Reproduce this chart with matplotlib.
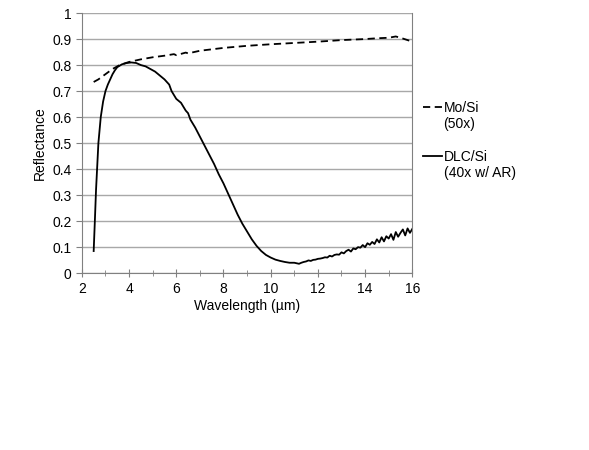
import matplotlib.pyplot as plt
from matplotlib.ticker import MultipleLocator

plt.rcParams['font.family'] = ['Liberation Sans', 'DejaVu Sans']

# Mo/Si (50x), dashed curve
moWave = [2.5, 2.7, 3.0, 3.3, 3.6, 4.0, 4.5, 5.0, 5.5, 5.9, 6.0, 6.4, 6.5, 7.0,
          8.0, 9.0, 10.0, 11.0, 12.0, 13.0, 14.0, 14.5, 15.0, 15.3, 15.6, 16.0]
moRefl = [0.735, 0.745, 0.765, 0.785, 0.80, 0.812, 0.822, 0.83, 0.836, 0.842, 0.838,
          0.848, 0.845, 0.855, 0.866, 0.874, 0.88, 0.885, 0.89, 0.896, 0.90,
          0.903, 0.905, 0.91, 0.902, 0.89]

# DLC/Si (40x w/ AR), solid curve
dlcWave = [2.5, 2.55, 2.6, 2.7, 2.8, 2.9, 3.0, 3.1, 3.2, 3.3, 3.4, 3.5, 3.7, 3.9,
           4.1, 4.3, 4.5, 4.7, 4.9, 5.1, 5.3, 5.5, 5.6, 5.7, 5.8, 5.9, 6.0, 6.2,
           6.4, 6.5, 6.6, 6.8, 7.0, 7.2, 7.4, 7.6, 7.8, 8.0, 8.2, 8.4, 8.6, 8.8,
           9.0, 9.2, 9.4, 9.6, 9.8, 10.0, 10.2, 10.4, 10.6, 10.8, 11.0, 11.1, 11.2,
           11.3, 11.4, 11.5, 11.6, 11.7, 11.8, 11.9, 12.0, 12.1, 12.2, 12.3, 12.4,
           12.5, 12.6, 12.7, 12.8, 12.9, 13.0, 13.1, 13.2, 13.3, 13.4, 13.5, 13.6,
           13.7, 13.8, 13.9, 14.0, 14.1, 14.2, 14.3, 14.4, 14.5, 14.6, 14.7, 14.8,
           14.9, 15.0, 15.1, 15.2, 15.3, 15.4, 15.5, 15.6, 15.7, 15.8, 15.9, 16.0]
dlcRefl = [0.085, 0.2, 0.32, 0.5, 0.6, 0.66, 0.70, 0.725, 0.745, 0.765, 0.78, 0.792,
           0.803, 0.808, 0.81, 0.808, 0.80, 0.795, 0.785, 0.775, 0.76, 0.745, 0.735,
           0.725, 0.70, 0.685, 0.67, 0.655, 0.625, 0.615, 0.59, 0.56, 0.525, 0.49,
           0.455, 0.42, 0.38, 0.345, 0.305, 0.265, 0.225, 0.19, 0.16, 0.13, 0.105,
           0.085, 0.07, 0.06, 0.052, 0.047, 0.043, 0.04, 0.04, 0.038, 0.036, 0.04,
           0.043, 0.045, 0.049, 0.047, 0.051, 0.052, 0.055, 0.056, 0.058, 0.061, 0.06,
           0.067, 0.064, 0.07, 0.072, 0.071, 0.08, 0.076, 0.085, 0.09, 0.083, 0.095,
           0.092, 0.1, 0.098, 0.108, 0.1, 0.115, 0.109, 0.12, 0.112, 0.13, 0.118,
           0.138, 0.122, 0.142, 0.133, 0.15, 0.128, 0.158, 0.14, 0.155, 0.168,
           0.145, 0.172, 0.155, 0.17]

fig = plt.figure(figsize=(5.89, 4.5), dpi=100)
ax = fig.add_axes([0.139, 0.393, 0.561, 0.578])

ax.plot(moWave, moRefl, color='black', lw=1.3, ls=(0, (4, 2.5)), label='Mo/Si\n(50x)')
ax.plot(dlcWave, dlcRefl, color='black', lw=1.3, label='DLC/Si\n(40x w/ AR)')

ax.set_xlim(2, 16)
ax.set_ylim(0, 1)
ax.xaxis.set_major_locator(MultipleLocator(2))
ax.xaxis.set_minor_locator(MultipleLocator(1))
ax.set_yticks([i / 10 for i in range(11)])
ax.set_yticklabels(['0'] + ['%.1f' % (i / 10) for i in range(1, 10)] + ['1'])
ax.grid(axis='y', color='#a8a8a8', lw=1)
ax.set_axisbelow(True)
ax.spines['top'].set_visible(False)
for s in ['left', 'bottom', 'right']:
    ax.spines[s].set_color('#808080')
ax.tick_params(axis='x', which='both', direction='inout', color='#808080', labelsize=10)
ax.tick_params(axis='x', which='major', length=6)
ax.tick_params(axis='x', which='minor', length=4)
ax.tick_params(axis='y', direction='out', length=4, color='#808080', labelsize=10)

ax.set_xlabel('Wavelength (µm)', fontsize=10, labelpad=2)
ax.set_ylabel('Reflectance', fontsize=10, labelpad=4)

leg = ax.legend(loc='center left', bbox_to_anchor=(0.996, 0.51), frameon=False,
                fontsize=10, handlelength=1.3, handletextpad=0.15, labelspacing=1.3)
# put the line sample next to the first line of each two-line label
for h in leg.legend_handles:
    h.set_ydata([v + 7 for v in h.get_ydata()])

fig.savefig('out.png', dpi=100)
